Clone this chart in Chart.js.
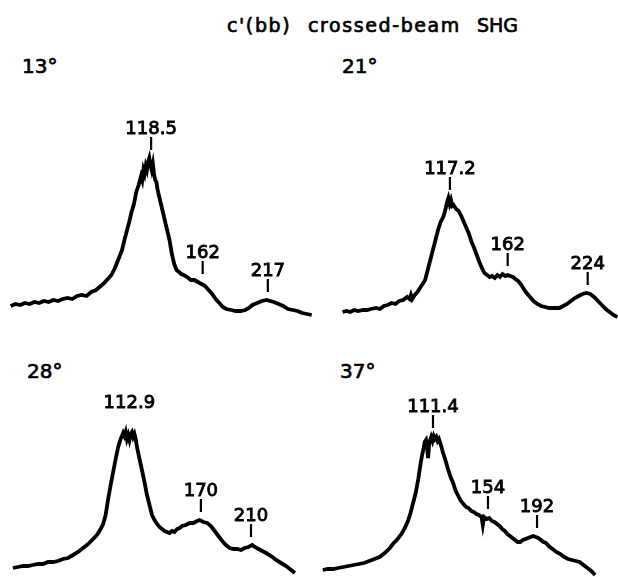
<!DOCTYPE html>
<html>
<head>
<meta charset="utf-8">
<script src="https://cdn.jsdelivr.net/npm/chart.js@4"></script>
<style>
    body { margin: 0; background: #fff; width: 618px; height: 577px; position: relative; overflow: hidden; }
    canvas { position: absolute; }
    .txt { position: absolute; font-family: "DejaVu Sans", sans-serif; color: #000; line-height: 1; white-space: pre; -webkit-text-stroke: 0.7px #000; }
    .title { font-size: 19px; letter-spacing: 1.6px; }
    .angle { font-size: 20px; }
</style>
</head>
<body>
<div class="txt title" style="left:227px; top:16px;">c'(bb)</div>
<div class="txt title" style="left:308px; top:16px;">crossed-beam</div>
<div class="txt title" style="left:477px; top:16px; letter-spacing:0;">SHG</div>
<div class="txt angle" style="left:22px; top:56px;">13°</div>
<div class="txt angle" style="left:342px; top:56px;">21°</div>
<div class="txt angle" style="left:27px; top:361px;">28°</div>
<div class="txt angle" style="left:340px; top:361px;">37°</div>

<canvas id="chart13" width="320" height="220" style="left:0px; top:110px;"></canvas>
<canvas id="chart21" width="318" height="220" style="left:300px; top:110px;"></canvas>
<canvas id="chart28" width="300" height="197" style="left:0px; top:380px;"></canvas>
<canvas id="chart37" width="318" height="197" style="left:300px; top:380px;"></canvas>

<script>
// frequency shift (cm-1) and SHG intensity (arb. units)
const freq13 = [0,4,8,12,16,20,24,28,32,36,40,44,48,52,56,60,64,68,72,76,79,82,85,88,90,92,94,96,98,100,102,104,106,108,110,111,112,113,114,115,116,117,118,119,120,121,122,123,124,126,128,130,132,134,136,138,140,142,144,146,149,152,155,158,161,164,167,170,173,176,179,182,186,190,194,198,201,204,208,212,216,219,222,226,230,234,238,242,246,250,254];
const int13 = [24,26,25,27,26,28,27,29,28,30,29,31,32,31,34,35,34,38,40,44,47,51,55,62,68,74,80,90,99,108,118,126,138,145,154,150,160,156,164,160,168,172,165,160,166,156,150,148,140,130,120,110,100,90,76,66,60,58,56,55,53,50,50,48,46,44,40,36,31,27,23,21,20,19,19,20,22,25,27,29,30,29,28,26,24,21,20,19,17,16,15];
const peaks13 = [118.5, 162, 217];
const peakText13 = ['118.5', '162', '217'];
const tick13 = [true, true, true];

const freq21 = [34,37,40,43,46,50,53,56,60,63,66,69,72,75,78,81,84,86,87,88,90,92,94,96,98,100,102,104,106,108,110,112,113,114,115,116,117,118,119,120,122,124,126,128,130,132,134,136,138,140,142,144,146,148,150,152,154,156,158,160,162,164,166,168,170,172,174,176,178,180,182,185,188,191,194,198,202,205,208,211,214,217,220,223,226,229,232,235,238,241,244,247];
const int21 = [18,19,18,20,19,20,20,21,22,21,24,25,27,26,29,30,33,31,35,31,35,38,42,46,50,60,70,80,90,100,108,113,117,122,128,132,126,130,124,125,121,119,114,108,102,96,88,82,75,68,62,57,55,53,54,52,55,53,56,54,55,54,53,51,49,46,42,38,35,32,29,26,24,23,22,22,22,24,26,29,32,34,36,37,36,33,29,25,21,18,15,13];
const peaks21 = [117.2, 162, 224];
const peakText21 = ['117.2', '162', '224'];
const tick21 = [true, true, true];

const freq28 = [20,24,28,32,36,40,44,48,52,56,60,64,68,72,76,80,84,87,90,92,94,96,98,100,102,104,106,108,109,110,111,112,113,114,115,116,117,118,119,121,123,125,127,129,131,133,135,137,139,141,143,145,147,149,151,153,155,158,161,164,167,169,172,175,178,181,184,187,190,193,196,199,202,205,208,211,213,216,219,222,226,230,234,238,242,245];
const int28 = [9,10,11,11,12,13,13,15,15,16,18,19,22,25,29,33,38,42,48,53,62,78,92,105,118,130,138,144,141,145,138,142,137,143,145,140,143,138,130,118,107,95,82,72,62,57,53,50,48,46,45,44,46,45,48,49,51,52,54,54,56,57,55,54,51,46,41,36,32,29,28,28,27,29,30,32,30,28,26,24,21,17,14,11,7,4];
const peaks28 = [112.9, 170, 210];
const peakText28 = ['112.9', '170', '210'];
const tick28 = [false, true, true];

const freq37 = [26,30,34,38,42,46,50,54,58,62,66,70,74,78,81,84,87,90,92,94,96,98,100,102,103,104,105,106,107,107.6,108.5,110,111,112,113,114,115,116,117,118,119,121,123,125,127,129,131,133,135,137,139,141,143,145,147,149,150,151,153,155,157,159,161,163,165,167,169,171,173,175,177,179,181,183,185,187,189,191,193,195,197,199,201,203,205,207,210,213,216,219,222,225,228,231,234,237];
const int37 = [7,8,8,9,10,11,12,13,14,16,18,20,24,29,34,38,43,50,56,64,74,84,98,115,122,128,135,137,128,119,134,140,136,141,138,140,136,138,134,130,125,117,108,100,94,86,81,76,73,70,69,66,65,63,62,60,52,60,58,59,56,55,53,51,48,46,43,41,39,37,35,35,37,38,39,40,41,40,39,37,35,34,31,29,27,25,23,20,18,17,16,15,12,9,6,2];
const peaks37 = [111.4, 154, 192];
const peakText37 = ['111.4', '154', '192'];
const tick37 = [true, true, true];

// peak labels with a short marker above the trace
const peakMarks = {
    id: 'peakMarks',
    afterDatasetsDraw(chart, args, opts) {
        const ctx = chart.ctx;
        const xScale = chart.scales.x;
        const yScale = chart.scales.y;
        const pts = chart.data.datasets[0].data;
        ctx.save();
        ctx.fillStyle = '#000';
        ctx.strokeStyle = '#000';
        ctx.font = '18px "DejaVu Sans"';
        ctx.textAlign = 'center';
        ctx.textBaseline = 'alphabetic';
        opts.positions.forEach((pos, i) => {
            let top = -Infinity;
            pts.forEach(p => {
                if (Math.abs(p.x - pos) <= 4 && p.y > top) top = p.y;
            });
            const px = xScale.getPixelForValue(pos);
            const py = yScale.getPixelForValue(top);
            const tickBottom = py - 8;
            const tickTop = tickBottom - 13;
            if (opts.ticks[i]) {
                ctx.lineWidth = 2.2;
                ctx.beginPath();
                ctx.moveTo(px, tickBottom);
                ctx.lineTo(px, tickTop);
                ctx.stroke();
            }
            ctx.lineWidth = 0.9;
            ctx.fillText(opts.labels[i], px, tickTop - 3);
            ctx.strokeText(opts.labels[i], px, tickTop - 3);
        });
        ctx.restore();
    }
};

function makePanel(id, freq, intensity, xMin, xMax, yMax, peaks, peakText, ticks) {
    const ctx = document.getElementById(id).getContext('2d');
    return new Chart(ctx, {
        type: 'line',
        data: {
            datasets: [{
                data: freq.map((f, i) => ({ x: f, y: intensity[i] })),
                borderColor: '#000',
                borderWidth: 3.8,
                pointRadius: 0,
                tension: 0,
                fill: false
            }]
        },
        options: {
            responsive: false,
            animation: false,
            layout: { padding: 0 },
            scales: {
                x: { type: 'linear', min: xMin, max: xMax, display: false },
                y: { min: 0, max: yMax, display: false }
            },
            plugins: {
                legend: { display: false },
                tooltip: { enabled: false },
                peakMarks: { positions: peaks, labels: peakText, ticks: ticks }
            }
        },
        plugins: [peakMarks]
    });
}

document.addEventListener("DOMContentLoaded", function() {
    makePanel('chart13', freq13, int13, -9, 261, 220, peaks13, peakText13, tick13);
    makePanel('chart21', freq21, int21, 1, 247.5, 220, peaks21, peakText21, tick21);
    makePanel('chart28', freq28, int28, 9.7, 249.1, 197, peaks28, peakText28, tick28);
    makePanel('chart37', freq37, int37, 8.4, 254.7, 197, peaks37, peakText37, tick37);
});
</script>
</body>
</html>
